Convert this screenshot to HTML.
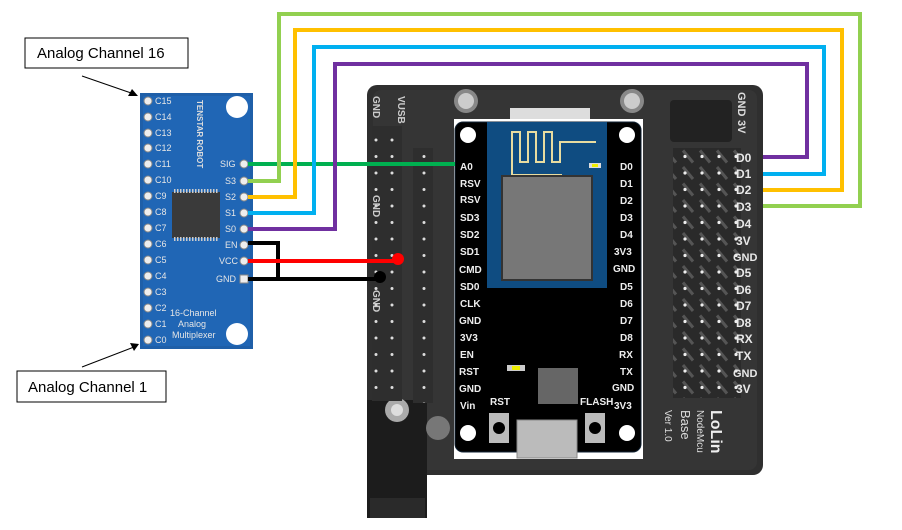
<!DOCTYPE html>
<html><head><meta charset="utf-8"><style>
html,body{margin:0;padding:0;background:#fff;width:902px;height:530px;overflow:hidden}
svg{display:block}
text{font-family:"Liberation Sans",sans-serif}
</style></head><body>
<svg width="902" height="530" viewBox="0 0 902 530" xmlns="http://www.w3.org/2000/svg">
<defs>
<pattern id="pins" x="0" y="0" width="17" height="16.5" patternUnits="userSpaceOnUse">
<rect width="17" height="16.5" fill="#2a2a2a"/>
<line x1="3" y1="2" x2="13" y2="14" stroke="#555" stroke-width="3"/>
<circle cx="5" cy="8" r="1.6" fill="#eee"/>
</pattern>
<pattern id="lpins" x="0" y="0" width="16" height="16.5" patternUnits="userSpaceOnUse">
<rect width="16" height="16.5" fill="#2e2e2e"/>
<circle cx="8" cy="8" r="1.5" fill="#ddd"/>
</pattern>
</defs>

<!-- main base board -->
<rect x="367" y="85" width="396" height="390" rx="10" fill="#2f2f2f"/>
<rect x="373" y="90" width="384" height="380" rx="8" fill="#353535"/>
<!-- jack -->
<rect x="367" y="400" width="60" height="118" fill="#1c1c1c"/>
<rect x="370" y="498" width="55" height="20" fill="#2a2a2a"/>
<circle cx="397" cy="410" r="12" fill="#aaa"/>
<circle cx="397" cy="410" r="6" fill="#ddd"/>
<circle cx="438" cy="428" r="12" fill="#777"/>
<!-- mounting holes top -->
<circle cx="466" cy="101" r="12" fill="#888"/><circle cx="466" cy="101" r="8" fill="#ccc"/>
<circle cx="632" cy="101" r="12" fill="#888"/><circle cx="632" cy="101" r="8" fill="#ccc"/>
<rect x="510" y="108" width="80" height="12" fill="#ddd"/>

<!-- left header columns -->
<rect x="372" y="126" width="30" height="275" fill="url(#lpins)"/>
<rect x="413" y="148" width="20" height="255" fill="url(#lpins)"/>
<text transform="translate(373,96) rotate(90)" font-size="10" fill="#ccc" font-weight="bold">GND</text>
<text transform="translate(398,96) rotate(90)" font-size="10" fill="#ccc" font-weight="bold">VUSB</text>
<text transform="translate(373,195) rotate(90)" font-size="10" fill="#ccc" font-weight="bold">GND</text>
<text transform="translate(373,290) rotate(90)" font-size="10" fill="#ccc" font-weight="bold">GND</text>

<!-- right headers -->
<rect x="670" y="100" width="62" height="42" rx="4" fill="#222"/>
<rect x="673" y="148" width="68" height="250" fill="url(#pins)"/>
<text transform="translate(738,92) rotate(90)" font-size="11" fill="#ddd" font-weight="bold">GND</text>
<text transform="translate(738,120) rotate(90)" font-size="11" fill="#ddd" font-weight="bold">3V</text>
<g font-size="12" fill="#e8e8e8" font-family="Liberation Mono,monospace" font-weight="bold">
<text x="736" y="162">D0</text><text x="736" y="178">D1</text><text x="736" y="194">D2</text><text x="736" y="211">D3</text><text x="736" y="228">D4</text><text x="736" y="245">3V</text><text x="733" y="261" font-size="11">GND</text><text x="736" y="277">D5</text><text x="736" y="294">D6</text><text x="736" y="310">D7</text><text x="736" y="327">D8</text><text x="736" y="343">RX</text><text x="736" y="360">TX</text><text x="733" y="377" font-size="11">GND</text><text x="736" y="393">3V</text>
</g>
<text transform="translate(711,410) rotate(90)" font-size="16" fill="#eee" font-weight="bold" font-family="Liberation Mono,monospace">LoLin</text>
<text transform="translate(697,410) rotate(90)" font-size="10" fill="#ddd" font-family="Liberation Mono,monospace">NodeMcu</text>
<text transform="translate(681,410) rotate(90)" font-size="13" fill="#ddd" font-family="Liberation Mono,monospace">Base</text>
<text transform="translate(665,410) rotate(90)" font-size="10" fill="#ddd" font-family="Liberation Mono,monospace">Ver 1.0</text>

<!-- NodeMCU -->
<rect x="454" y="119" width="189" height="340" fill="#fff"/>
<rect x="455" y="122" width="186" height="330" rx="8" fill="#000" stroke="#123" stroke-width="1"/>
<rect x="487" y="122" width="120" height="166" fill="#0f4c81"/>
<path d="M512 168 V132 h8 v30 h8 v-30 h8 v30 h8 v-30 h8 v30 h8 v-20 h36 M512 168 V175 h50" fill="none" stroke="#e8dca0" stroke-width="2"/>
<rect x="589" y="163" width="12" height="5" fill="#ddd"/><rect x="592" y="164" width="6" height="3" fill="#ee0"/>
<rect x="502" y="176" width="90" height="104" fill="#777" stroke="#333" stroke-width="2"/>
<circle cx="468" cy="135" r="8" fill="#fff"/><circle cx="627" cy="135" r="8" fill="#fff"/>
<circle cx="468" cy="433" r="8" fill="#fff"/><circle cx="627" cy="433" r="8" fill="#fff"/>
<rect x="507" y="365" width="18" height="6" fill="#ccc"/><rect x="512" y="366" width="8" height="4" fill="#ee0"/>
<rect x="538" y="368" width="40" height="36" fill="#666"/>
<rect x="517" y="420" width="60" height="38" fill="#bbb" stroke="#888"/>
<rect x="489" y="413" width="20" height="30" fill="#bbb"/><circle cx="499" cy="428" r="6" fill="#000"/>
<rect x="585" y="413" width="20" height="30" fill="#bbb"/><circle cx="595" cy="428" r="6" fill="#000"/>
<g font-size="10" fill="#eee" font-weight="bold">
<text x="460" y="170">A0</text><text x="460" y="187">RSV</text><text x="460" y="203">RSV</text><text x="460" y="221">SD3</text><text x="460" y="238">SD2</text><text x="460" y="255">SD1</text><text x="459" y="273">CMD</text><text x="460" y="290">SD0</text><text x="460" y="307">CLK</text><text x="459" y="324">GND</text><text x="460" y="341">3V3</text><text x="460" y="358">EN</text><text x="459" y="375">RST</text><text x="459" y="392">GND</text><text x="460" y="409">Vin</text>
<text x="620" y="170">D0</text><text x="620" y="187">D1</text><text x="620" y="204">D2</text><text x="620" y="221">D3</text><text x="620" y="238">D4</text><text x="614" y="255">3V3</text><text x="613" y="272">GND</text><text x="620" y="290">D5</text><text x="620" y="307">D6</text><text x="620" y="324">D7</text><text x="620" y="341">D8</text><text x="619" y="358">RX</text><text x="620" y="375">TX</text><text x="612" y="391">GND</text><text x="614" y="409">3V3</text>
<text x="490" y="405">RST</text><text x="580" y="405">FLASH</text>
</g>

<!-- Mux board -->
<rect x="140" y="93" width="113" height="256" fill="#1f5fa8"/>
<rect x="143" y="96" width="107" height="250" fill="#2066b5"/>
<rect x="172" y="192" width="48" height="46" fill="#3a3a3a"/>
<g stroke="#ccc" stroke-width="1">
<path d="M174 191 h44 M174 239 h44" stroke-dasharray="1.5 1.5" stroke-width="4"/>
</g>
<circle cx="237" cy="107" r="11" fill="#fff"/><circle cx="237" cy="334" r="11" fill="#fff"/>
<text transform="translate(197,100) rotate(90)" font-size="8" fill="#ddd" font-weight="bold" font-family="Liberation Mono,monospace">TENSTAR ROBOT</text>
<g fill="#eee" stroke="#888" stroke-width="1">
<circle cx="148" cy="101" r="4"/><circle cx="148" cy="117" r="4"/><circle cx="148" cy="133" r="4"/><circle cx="148" cy="148" r="4"/><circle cx="148" cy="164" r="4"/><circle cx="148" cy="180" r="4"/><circle cx="148" cy="196" r="4"/><circle cx="148" cy="212" r="4"/><circle cx="148" cy="228" r="4"/><circle cx="148" cy="244" r="4"/><circle cx="148" cy="260" r="4"/><circle cx="148" cy="276" r="4"/><circle cx="148" cy="292" r="4"/><circle cx="148" cy="308" r="4"/><circle cx="148" cy="324" r="4"/><circle cx="148" cy="340" r="4"/>
<circle cx="244" cy="164" r="4"/><circle cx="244" cy="181" r="4"/><circle cx="244" cy="197" r="4"/><circle cx="244" cy="213" r="4"/><circle cx="244" cy="229" r="4"/><circle cx="244" cy="245" r="4"/><circle cx="244" cy="261" r="4"/><rect x="240" y="275" width="8" height="8"/>
</g>
<g font-size="9" fill="#e6e6e6" font-family="Liberation Mono,monospace">
<text x="155" y="104">C15</text><text x="155" y="120">C14</text><text x="155" y="136">C13</text><text x="155" y="151">C12</text><text x="155" y="167">C11</text><text x="155" y="183">C10</text><text x="155" y="199">C9</text><text x="155" y="215">C8</text><text x="155" y="231">C7</text><text x="155" y="247">C6</text><text x="155" y="263">C5</text><text x="155" y="279">C4</text><text x="155" y="295">C3</text><text x="155" y="311">C2</text><text x="155" y="327">C1</text><text x="155" y="343">C0</text>
<text x="220" y="167">SIG</text><text x="225" y="184">S3</text><text x="225" y="200">S2</text><text x="225" y="216">S1</text><text x="225" y="232">S0</text><text x="225" y="248">EN</text><text x="219" y="264">VCC</text><text x="216" y="282">GND</text>
<text x="170" y="316">16-Channel</text><text x="178" y="327">Analog</text><text x="172" y="338">Multiplexer</text>
</g>

<!-- wires -->
<g fill="none" stroke-width="4">
<path d="M248 164 H455" stroke="#00b050"/>
<path d="M248 181 H279 V14 H860 V206 H763" stroke="#92d050"/>
<path d="M248 197 H295 V30 H842 V190 H763" stroke="#ffc000"/>
<path d="M248 213 H314 V47 H824 V174 H763" stroke="#00b0f0"/>
<path d="M248 229 H335 V64 H807 V157 H763" stroke="#7030a0"/>
<path d="M248 243 H278 V279" stroke="#000"/>
<path d="M248 261 H398" stroke="#ff0000"/>
<path d="M248 279 H380" stroke="#000"/>
</g>
<circle cx="398" cy="259" r="6" fill="#ff0000"/>
<circle cx="380" cy="277" r="6" fill="#000"/>

<!-- callouts -->
<rect x="25" y="38" width="163" height="30" fill="#fff" stroke="#000" stroke-width="1"/>
<text x="37" y="58" font-size="15" fill="#000">Analog Channel 16</text>
<rect x="17" y="371" width="149" height="31" fill="#fff" stroke="#000" stroke-width="1"/>
<text x="28" y="392" font-size="15" fill="#000">Analog Channel 1</text>
<line x1="82" y1="76" x2="134" y2="94" stroke="#000"/>
<polygon points="138,96 128,96 132,89" fill="#000"/>
<line x1="82" y1="367" x2="134" y2="347" stroke="#000"/>
<polygon points="139,344 130,343 134,351" fill="#000"/>
</svg>
</body></html>
